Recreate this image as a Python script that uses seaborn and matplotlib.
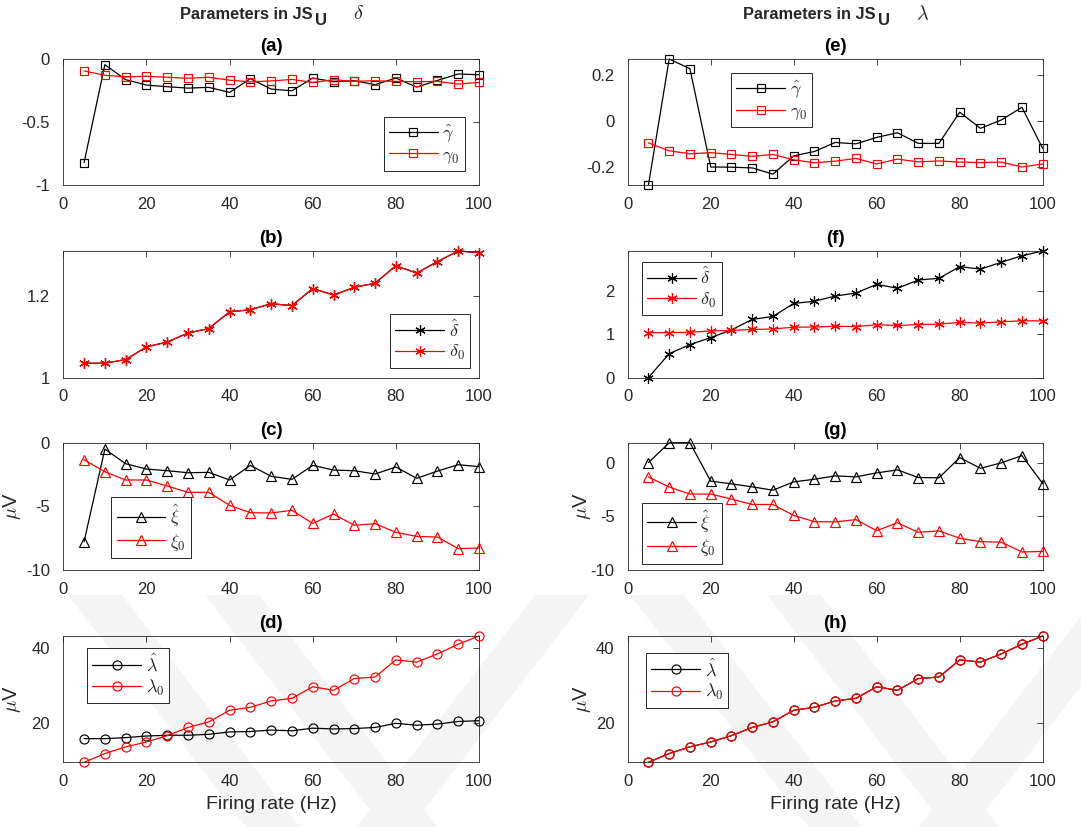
import matplotlib
matplotlib.use("Agg")
import matplotlib.pyplot as plt
import seaborn as sns
from matplotlib.patches import Polygon

# ---------------------------------------------------------------- data
firing_rate = [5, 10, 15, 20, 25, 30, 35, 40, 45, 50,
               55, 60, 65, 70, 75, 80, 85, 90, 95, 100]

# shape parameter gamma
gamma_true = [-0.095, -0.129, -0.142, -0.137, -0.145, -0.153, -0.145, -0.168, -0.181, -0.174,
              -0.162, -0.186, -0.165, -0.177, -0.173, -0.178, -0.180, -0.178, -0.199, -0.186]
gamma_hat_delta = [-0.822, -0.045, -0.164, -0.207, -0.220, -0.231, -0.225, -0.265, -0.156, -0.239,
                   -0.252, -0.151, -0.180, -0.172, -0.204, -0.151, -0.223, -0.170, -0.119, -0.125]
gamma_hat_lambda = [-0.277, 0.268, 0.226, -0.199, -0.200, -0.203, -0.230, -0.151, -0.132, -0.093,
                    -0.099, -0.071, -0.051, -0.097, -0.097, 0.038, -0.032, 0.004, 0.059, -0.119]

# shape parameter delta
delta_true = [1.035, 1.035, 1.044, 1.075, 1.087, 1.109, 1.120, 1.161, 1.166, 1.181,
              1.176, 1.218, 1.202, 1.221, 1.231, 1.274, 1.256, 1.284, 1.310, 1.306]
delta_hat_delta = [1.035, 1.035, 1.044, 1.075, 1.087, 1.109, 1.120, 1.161, 1.166, 1.181,
                   1.176, 1.218, 1.202, 1.221, 1.231, 1.274, 1.256, 1.284, 1.310, 1.306]
delta_hat_lambda = [0.0, 0.55, 0.76, 0.92, 1.10, 1.34, 1.41, 1.71, 1.76, 1.88,
                    1.95, 2.15, 2.06, 2.25, 2.29, 2.56, 2.50, 2.66, 2.81, 2.92]

# location parameter xi (uV)
xi_true = [-1.34, -2.28, -2.93, -2.93, -3.40, -3.90, -3.90, -4.92, -5.50, -5.52,
           -5.31, -6.34, -5.60, -6.49, -6.36, -7.04, -7.36, -7.41, -8.32, -8.27]
xi_hat_delta = [-7.77, -0.50, -1.65, -2.07, -2.20, -2.36, -2.33, -2.93, -1.78, -2.64,
                -2.88, -1.78, -2.15, -2.20, -2.46, -1.91, -2.80, -2.23, -1.73, -1.88]
xi_hat_lambda = [0.0, 1.84, 1.85, -1.73, -1.98, -2.26, -2.57, -1.80, -1.55, -1.24,
                 -1.33, -0.96, -0.68, -1.39, -1.42, 0.46, -0.53, -0.03, 0.65, -1.95]

# scale parameter lambda (uV)
lambda_true = [9.46, 11.8, 13.6, 14.9, 16.6, 18.8, 20.3, 23.4, 24.2, 25.9,
               26.6, 29.7, 28.75, 31.9, 32.3, 36.9, 36.3, 38.5, 41.1, 43.3]
lambda_hat_delta = [15.8, 15.8, 16.07, 16.5, 16.7, 16.7, 16.96, 17.6, 17.7, 18.1,
                    17.9, 18.6, 18.4, 18.5, 18.8, 19.9, 19.4, 19.7, 20.4, 20.6]
lambda_hat_lambda = [9.46, 11.8, 13.6, 14.9, 16.6, 18.8, 20.3, 23.4, 24.2, 25.9,
                     26.6, 29.7, 28.75, 31.9, 32.3, 36.9, 36.3, 38.5, 41.1, 43.3]

x_ticks = [0, 20, 40, 60, 80, 100]
column_titles = ["Parameters in JS", "Parameters in JS"]
column_greek = [r"$\delta$", r"$\lambda$"]
panel_letters = ["(a)", "(b)", "(c)", "(d)", "(e)", "(f)", "(g)", "(h)"]

# ---------------------------------------------------------------- style
sns.set_theme(style="white")
plt.rcParams["font.family"] = ["Liberation Sans", "DejaVu Sans"]
plt.rcParams["mathtext.fontset"] = "cm"
plt.rcParams["axes.unicode_minus"] = False

AX_GRAY = "#262626"
W, H = 1081, 827
fig = plt.figure(figsize=(W / 100, H / 100), dpi=100)
fig.patch.set_facecolor("white")

# faint background emblem behind the panels
bg = fig.add_axes([0, 0, 1, 1], zorder=-5)
bg.set_xlim(0, W)
bg.set_ylim(H, 0)
bg.axis("off")
emblem = [
    [(68, 595), (122, 595), (300, 827), (246, 827)],
    [(205, 595), (259, 595), (437, 827), (383, 827)],
    [(535, 595), (589, 595), (411, 827), (357, 827)],
    [(630, 595), (684, 595), (862, 827), (808, 827)],
    [(767, 595), (821, 595), (999, 827), (945, 827)],
    [(1097, 595), (1151, 595), (973, 827), (919, 827)],
]
for pts in emblem:
    bg.add_patch(Polygon(pts, closed=True, facecolor="#f4f4f4", edgecolor="none"))

col_left = [63.3, 627.7]
col_width = [415.7, 415.0]
row_top = [59.0, 251.0, 442.7, 636.0]
row_bot = [185.0, 377.5, 570.0, 762.3]


def make_axes(col, row):
    rect = [col_left[col] / W, 1 - row_bot[row] / H,
            col_width[col] / W, (row_bot[row] - row_top[row]) / H]
    ax = fig.add_axes(rect)
    ax.set_facecolor("none")
    return ax


panels = [
    # col, row, hat, true, marker, size, hat label, true label, ylim, yticks, legend loc, anchor, ylabel
    (0, 0, gamma_hat_delta, gamma_true, "s", 6.0, r"$\hat{\gamma}$", r"$\gamma_0$",
     (-1, 0), [-1, -0.5, 0], "lower right", (0.966, 0.111), False),
    (0, 1, delta_hat_delta, delta_true, (6, 2, 0), 7.5, r"$\hat{\delta}$", r"$\delta_0$",
     (1, None), [1, 1.2], "lower right", (0.978, 0.076), False),
    (0, 2, xi_hat_delta, xi_true, "^", 7.5, r"$\hat{\xi}$", r"$\xi_0$",
     (-10, 0), [-10, -5, 0], "lower left", (0.115, 0.094), True),
    (0, 3, lambda_hat_delta, lambda_true, "o", 6.5, r"$\hat{\lambda}$", r"$\lambda_0$",
     (None, None), [20, 40], "upper left", (0.057, 0.905), True),
    (1, 0, gamma_hat_lambda, gamma_true, "s", 6.0, r"$\hat{\gamma}$", r"$\gamma_0$",
     (None, None), [-0.2, 0, 0.2], "upper left", (0.249, 0.886), False),
    (1, 1, delta_hat_lambda, delta_true, (6, 2, 0), 7.5, r"$\hat{\delta}$", r"$\delta_0$",
     (None, None), [0, 1, 2], "upper left", (0.034, 0.916), False),
    (1, 2, xi_hat_lambda, xi_true, "^", 7.5, r"$\hat{\xi}$", r"$\xi_0$",
     (-10, None), [-10, -5, 0], "lower left", (0.034, 0.05), True),
    (1, 3, lambda_hat_lambda, lambda_true, "o", 6.5, r"$\hat{\lambda}$", r"$\lambda_0$",
     (None, None), [20, 40], "upper left", (0.044, 0.868), True),
]


def fmt_tick(v):
    return f"{v:g}"


for letter, (col, row, hat, true, marker, msize, hl, tl, ylim, yticks, loc, anchor, uv) \
        in zip(panel_letters, panels):
    ax = make_axes(col, row)
    filled = isinstance(marker, tuple)
    for vals, color, lab in ((hat, "black", hl), (true, "red", tl)):
        sns.lineplot(x=firing_rate, y=vals, ax=ax, color=color, lw=0.9,
                     marker=marker, markersize=msize,
                     markerfacecolor=color if filled else "none",
                     markeredgecolor=color, markeredgewidth=0.85,
                     label=lab, legend=False, clip_on=False)
    lo = min(min(hat), min(true)) if ylim[0] is None else ylim[0]
    hi = max(max(hat), max(true)) if ylim[1] is None else ylim[1]
    ax.set_ylim(lo, hi)
    ax.set_xlim(0, 100)
    ax.set_xticks(x_ticks)
    ax.set_xticklabels([fmt_tick(v) for v in x_ticks])
    ax.set_yticks(yticks)
    ax.set_yticklabels([fmt_tick(v) for v in yticks])
    ax.tick_params(axis="both", direction="in", top=True, right=True,
                   length=4, width=0.6, color=AX_GRAY, labelcolor=AX_GRAY,
                   labelsize=12)
    ax.tick_params(axis="x", pad=8.5)
    ax.tick_params(axis="y", pad=9.5)
    for sp in ax.spines.values():
        sp.set_visible(True)
        sp.set_color(AX_GRAY)
        sp.set_linewidth(0.6)
    ax.set_title(letter, fontsize=13.5, fontweight="bold", pad=5.5, color="black")
    if uv:
        ax.set_ylabel(r"$\mu$V", fontsize=14.5, color=AX_GRAY)
        ax.yaxis.set_label_coords(-0.097 if col == 0 else -0.084, 0.5)
    if row == 3:
        ax.set_xlabel("Firing rate (Hz)", fontsize=14, color=AX_GRAY)
        ax.xaxis.set_label_coords(0.5, -0.27)
    leg = ax.legend(loc=loc, bbox_to_anchor=anchor, borderaxespad=0,
                    fontsize=13, handlelength=2.7, handletextpad=0.25,
                    borderpad=0.3, labelspacing=0.15, frameon=True,
                    fancybox=False, framealpha=1, edgecolor=AX_GRAY)
    leg.get_frame().set_linewidth(0.7)

# column headings: bold text, a bold subscript U and a trailing Greek symbol
heading_left = [180.0, 743.3]     # px from the left edge
heading_span = 133.0              # px width of "Parameters in JS"
base_px = 19.3                    # baseline, px from the top
renderer = fig.canvas.get_renderer()
for x0, greek, text in zip(heading_left, column_greek, column_titles):
    t1 = fig.text(x0 / W, 1 - base_px / H, text, fontsize=13, fontweight="bold",
                  ha="left", va="baseline")
    width = t1.get_window_extent(renderer=renderer).width
    t1.set_fontsize(13 * heading_span / width)
    xu = x0 + heading_span + 2
    fig.text(xu / W, 1 - (base_px + 6) / H, "U", fontsize=12, fontweight="bold",
             ha="left", va="baseline")
    fig.text((xu + 38) / W, 1 - base_px / H, greek, fontsize=14.5,
             ha="left", va="baseline")

fig.savefig("out.png", dpi=100, facecolor="white")
